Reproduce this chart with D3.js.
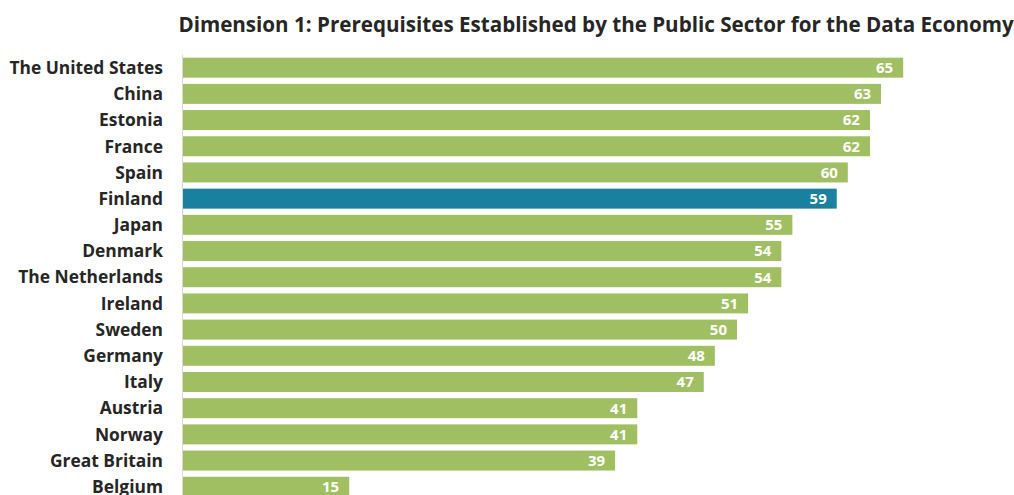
<!DOCTYPE html>
<html><head><meta charset="utf-8">
<script src="https://cdn.jsdelivr.net/npm/d3@7"></script>
<style>
html,body{margin:0;padding:0;background:#fff;}
svg{display:block;}
text{font-family:"Open Sans",Lato,sans-serif;font-weight:700;}
</style></head>
<body>
<svg id="chart" width="1014" height="495"></svg>
<script>
const title = "Dimension 1: Prerequisites Established by the Public Sector for the Data Economy";
const countries = ["The United States","China","Estonia","France","Spain","Finland","Japan","Denmark","The Netherlands","Ireland","Sweden","Germany","Italy","Austria","Norway","Great Britain","Belgium"];
const scores = [65,63,62,62,60,59,55,54,54,51,50,48,47,41,41,39,15];
const highlight = ["Finland"];

const svg = d3.select("#chart");
const x0 = 183, pxPerUnit = 11.08;
const x = d3.scaleLinear().domain([0,65]).range([x0, x0 + 65*pxPerUnit]);
const y = d3.scaleBand().domain(countries).range([54.6, 54.6 + 26.19*countries.length]).paddingInner(0.237).paddingOuter(0.118);

svg.append("text").attr("x",596).attr("y",31.5).attr("text-anchor","middle")
  .attr("font-size",20.6).attr("fill","#262626").text(title);

svg.append("line").attr("x1",x0-0.5).attr("x2",x0-0.5).attr("y1",y.range()[0]).attr("y2",y.range()[1])
  .attr("stroke","#d9d9d9").attr("stroke-width",1);

const g = svg.append("g");
g.selectAll("rect").data(countries).join("rect")
  .attr("x", x(0)).attr("y", d=>y(d)).attr("height", y.bandwidth())
  .attr("width", (d,i)=>x(scores[i])-x(0))
  .attr("fill", d=> highlight.includes(d) ? "#1a80a0" : "#9fbf62");

g.selectAll("text.val").data(countries).join("text").attr("class","val")
  .attr("x",(d,i)=>x(scores[i])-10).attr("y",d=>y(d)+y.bandwidth()/2).attr("dy","0.36em")
  .attr("text-anchor","end").attr("font-size",15).attr("fill","#fff")
  .text((d,i)=>scores[i]);

g.selectAll("text.lab").data(countries).join("text").attr("class","lab")
  .attr("x",163).attr("y",d=>y(d)+y.bandwidth()/2).attr("dy","0.36em")
  .attr("text-anchor","end").attr("font-size",17.4).attr("fill","#262626")
  .text(d=>d);
</script>
</body></html>
